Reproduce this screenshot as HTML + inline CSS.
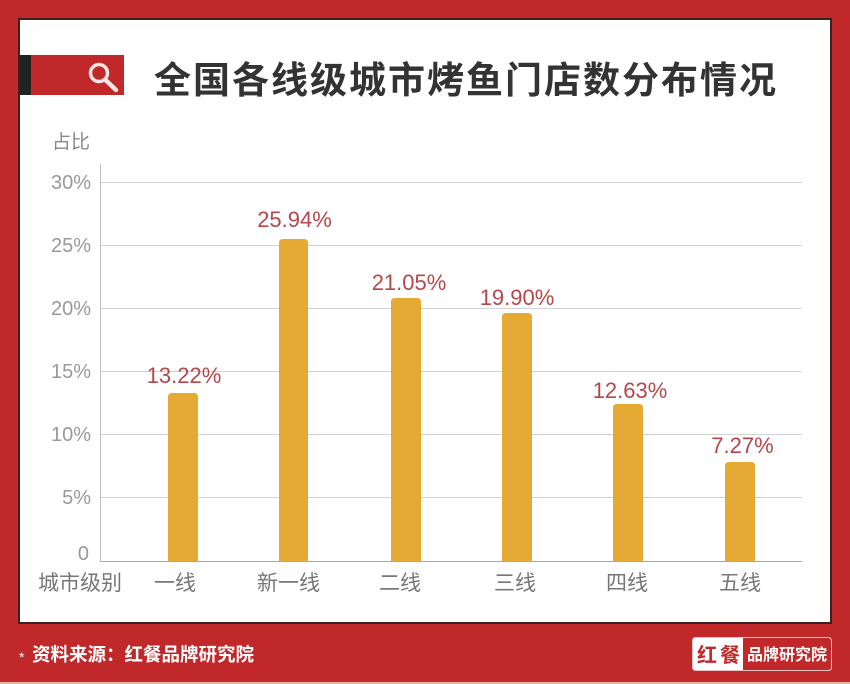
<!DOCTYPE html>
<html><head><meta charset="utf-8"><style>
html,body{margin:0;padding:0;width:850px;height:684px;overflow:hidden;background:#c0282a;}
svg{display:block}
</style></head><body>
<svg width="850" height="684" viewBox="0 0 850 684" xmlns="http://www.w3.org/2000/svg">
<rect x="0" y="0" width="850" height="684" fill="#c0282a"/>
<rect x="0" y="682" width="850" height="2" fill="#e7b3ad"/>
<!-- panel -->
<rect x="19" y="19" width="812" height="604" fill="#ffffff" stroke="#3b2222" stroke-width="2"/>
<!-- header bar -->
<rect x="20" y="55" width="11" height="40" fill="#222"/>
<rect x="31" y="55" width="93" height="40" fill="#c0282a"/>
<circle cx="99" cy="73" r="8.5" fill="none" stroke="#f6e4e4" stroke-width="3.5"/>
<line x1="105.5" y1="80" x2="116" y2="90" stroke="#f6e4e4" stroke-width="4.5" stroke-linecap="round"/>
<text x="154" y="93" font-family="'Liberation Sans','Noto Sans CJK SC',sans-serif" font-size="37" font-weight="bold" fill="#333" letter-spacing="2">全国各线级城市烤鱼门店数分布情况</text>
<!-- axis title -->
<text x="52" y="148" font-family="'Liberation Sans','Noto Sans CJK SC',sans-serif" font-size="19" fill="#888">占比</text>
<!-- gridlines -->
<g stroke="#d2d2d2" stroke-width="1">
<line x1="100" y1="182.5" x2="802" y2="182.5"/>
<line x1="100" y1="245.5" x2="802" y2="245.5"/>
<line x1="100" y1="308.5" x2="802" y2="308.5"/>
<line x1="100" y1="371.5" x2="802" y2="371.5"/>
<line x1="100" y1="434.5" x2="802" y2="434.5"/>
<line x1="100" y1="497.5" x2="802" y2="497.5"/>
</g>
<line x1="100.5" y1="164" x2="100.5" y2="561" stroke="#bdbdbd" stroke-width="1"/>
<!-- y labels -->
<g font-family="'Liberation Sans',sans-serif" font-size="20" fill="#999" text-anchor="end">
<text x="91" y="189">30%</text>
<text x="91" y="252">25%</text>
<text x="91" y="315">20%</text>
<text x="91" y="378">15%</text>
<text x="91" y="441">10%</text>
<text x="91" y="504">5%</text>
<text x="89" y="560">0</text>
</g>
<!-- bars -->
<g fill="#e4aa34">
<path d="M168 561 V397 Q168 393 172 393 H194 Q198 393 198 397 V561 Z"/>
<path d="M279 561 V243 Q279 239 283 239 H304 Q308 239 308 243 V561 Z"/>
<path d="M391 561 V302 Q391 298 395 298 H417 Q421 298 421 302 V561 Z"/>
<path d="M502 561 V317 Q502 313 506 313 H528 Q532 313 532 317 V561 Z"/>
<path d="M613 561 V408 Q613 404 617 404 H639 Q643 404 643 408 V561 Z"/>
<path d="M725 561 V466 Q725 462 729 462 H751 Q755 462 755 466 V561 Z"/>
</g>
<line x1="100" y1="561.5" x2="802" y2="561.5" stroke="#aaa" stroke-width="1"/>
<!-- value labels -->
<g font-family="'Liberation Sans',sans-serif" font-size="22" fill="#b5474c" text-anchor="middle">
<text x="184" y="383">13.22%</text>
<text x="294.5" y="227">25.94%</text>
<text x="409" y="290">21.05%</text>
<text x="517" y="305">19.90%</text>
<text x="630" y="398">12.63%</text>
<text x="742.5" y="453">7.27%</text>
</g>
<!-- x labels -->
<g font-family="'Liberation Sans','Noto Sans CJK SC',sans-serif" font-size="21" fill="#777">
<text x="38" y="590">城市级别</text>
<text x="175" y="590" text-anchor="middle">一线</text>
<text x="288.5" y="590" text-anchor="middle">新一线</text>
<text x="400" y="590" text-anchor="middle">二线</text>
<text x="515" y="590" text-anchor="middle">三线</text>
<text x="627" y="590" text-anchor="middle">四线</text>
<text x="740" y="590" text-anchor="middle">五线</text>
</g>
<!-- footer -->
<text x="19" y="662" font-family="'Liberation Sans',sans-serif" font-size="14" fill="#fff">*</text>
<text x="32" y="661" font-family="'Liberation Sans','Noto Sans CJK SC',sans-serif" font-size="18.5" font-weight="bold" fill="#fff">资料来源：红餐品牌研究院</text>
<!-- logo -->
<rect x="692.5" y="637.5" width="139" height="33" rx="3" fill="#fff" stroke="#e8c4c4" stroke-width="1"/>
<path d="M743 638 H828 Q831 638 831 641 V667 Q831 670 828 670 H743 Z" fill="#c0282a"/>
<text x="697" y="662" font-family="'Liberation Sans','Noto Sans CJK SC',sans-serif" font-size="20" font-weight="bold" fill="#c0282a" letter-spacing="3">红餐</text>
<text x="747" y="660" font-family="'Liberation Sans','Noto Sans CJK SC',sans-serif" font-size="16" font-weight="bold" fill="#fff">品牌研究院</text>
</svg>
</body></html>
